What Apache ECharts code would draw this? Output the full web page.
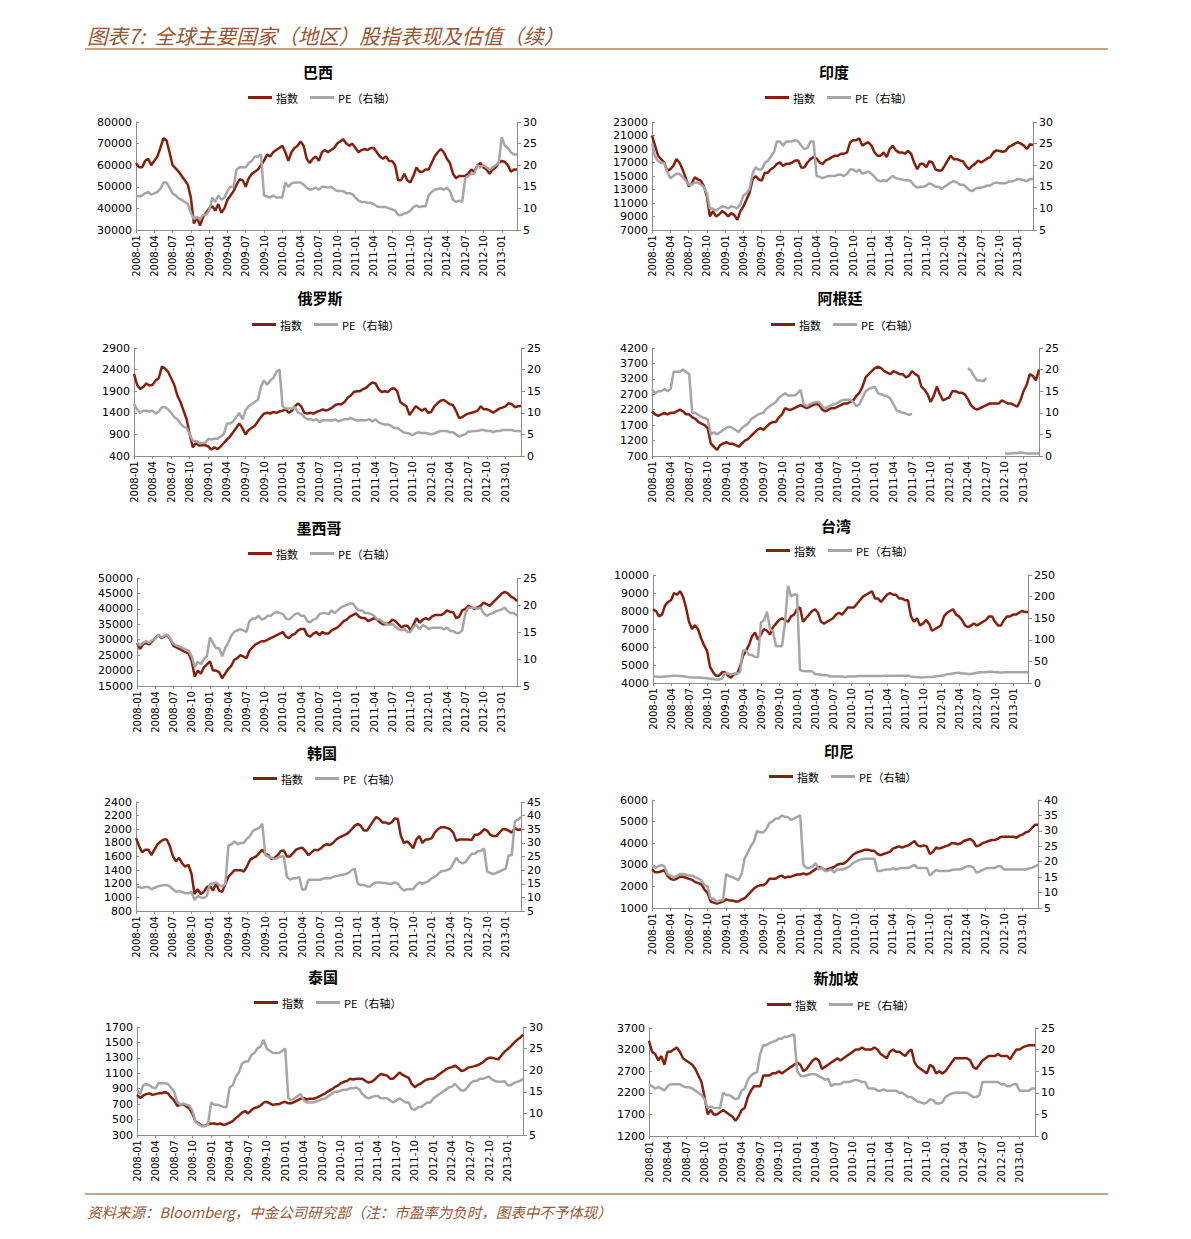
<!DOCTYPE html>
<html><head><meta charset="utf-8">
<script src="https://cdn.jsdelivr.net/npm/echarts/dist/echarts.min.js"></script>
<style>html,body{margin:0;padding:0;background:#fff}#c{width:1191px;height:1239px}</style>
</head><body><div id="c"></div><script>
// x tick labels (every 3 months), samples every half month from 2008-01
const xTickLabels = ['2008-01','2008-04','2008-07','2008-10','2009-01','2009-04','2009-07','2009-10','2010-01','2010-04','2010-07','2010-10','2011-01','2011-04','2011-07','2011-10','2012-01','2012-04','2012-07','2012-10','2013-01'];
const monthPos = Array.from({length:126},(_,i)=>i*0.5);

const brazilIdx = [61000,59000,59000,62000,63000,60000,62000,64000,68000,72500,
71500,66000,60000,58500,57000,55000,53000,51000,45000,33000,
36000,32000,36000,38000,40000,41000,39000,42000,38000,40000,
44000,46000,48000,51000,53500,53000,50000,54000,56000,57000,
58000,60000,62000,65000,64000,66000,67000,68000,69000,66000,
62000,66000,68000,69000,71000,69000,63000,61000,63000,64000,
62000,66000,67000,66000,67000,68000,70000,71000,72000,70000,
69000,70000,68000,66000,67000,67500,67000,68000,68000,66000,
64000,63000,64000,62000,62000,60000,53000,53000,56000,53000,
52000,55000,59000,57000,57000,58000,58000,61000,64000,66000,
67500,66000,63000,61000,56000,54000,55000,55000,55000,56000,
58000,57000,60000,61000,59000,58000,56000,58000,59000,61000,
62000,61500,60000,57000,58000,58000];
const brazilPE = [13,12.8,13,13.5,13.8,13.2,13.5,13.8,14.5,16,
16,14.8,13.5,13,12.3,12,11.5,11,9,7.5,
8,7.5,8.5,8.5,9.5,12.5,11.5,13,12,12.5,
14,15,15,19,19.5,19.5,19.5,20.5,21,22,
22,22.5,13,12.8,12.5,13,12.5,12.5,12.5,16,
15,15.8,16,16,16,15.5,14.8,14.3,14.5,14.8,
14.3,15,15,14.8,15,14.5,14,14,14,13.5,
13.5,13.3,12.5,11.8,11.5,11.5,11.3,11.3,11,10.5,
10.3,10.3,10.3,10,9.8,9.5,8.5,8.5,8.8,9,
9.5,10.3,10.7,10.3,10.5,10.5,13,13.8,14.3,14.5,
14.7,14.3,14.8,14,12,11.5,11.8,11.5,17,17.5,
18,18,20,19.5,20,19.5,19,19.5,20,20.5,
26.5,24.5,24,23,22.5,22.5];

const indiaIdx = [21000,19500,18000,17500,17000,15800,16000,16500,17500,17000,
16000,14800,13500,13800,14800,14500,14300,13500,12000,9000,
9800,9000,9300,9800,9500,9000,9500,9200,8500,9800,
10500,11500,12500,14500,15000,14500,14300,15500,15500,16000,
16300,16800,17000,16500,16800,16800,17000,17300,17300,16200,
16300,17000,17500,17800,17600,17000,16800,17300,17500,17800,
18000,18000,18300,18300,18500,20000,20300,20300,20600,19500,
19800,20000,19500,18500,18000,18000,18500,17800,19000,19500,
18800,18500,18500,18300,18700,18300,17000,16000,16800,16800,
16300,17200,17000,16000,15800,15800,16500,17300,18000,17500,
17500,17300,17200,16500,16000,16500,16800,17300,17000,17300,
17600,17800,18500,18800,18700,18600,18700,19300,19500,19800,
20000,19800,19500,19000,19700,19600];
const indiaPE = [25,22,21,20.5,20.5,18.5,17,17.5,18,18,
17.3,16.5,15.5,15.5,16,16,15.5,15,13.5,10,
10,9.5,10,10.5,10.3,10,10.5,10.3,10,11,
13,13.5,14.5,18,19.5,19,19,20.5,21,22,
23,25.5,25.5,24.5,25.5,25.5,25.5,25.8,25.5,24.5,
23.7,24,25.5,25.5,17.5,17.3,17,17.3,17.5,17.5,
17.5,17.8,17.8,17.5,18,19,19,18.5,19,18,
18.3,18.5,18,17.3,16.5,16.3,16.5,16.3,17,17.5,
17,16.8,16.7,16.5,16.5,16.3,15.3,14.8,15,15,
15.3,15.8,15.5,15,15,14.5,15,15.5,16,16.3,
16,15.5,15.5,15,14.3,14,14.5,14.8,14.8,15,
15.3,15.3,15.8,16,15.8,15.8,15.8,16.2,16.2,16.5,
16.8,16.7,16.5,16.3,16.8,16.8];

const russiaIdx = [2300,2050,1950,2000,2080,2030,2050,2150,2200,2470,
2430,2350,2200,2050,1800,1650,1450,1250,900,600,
700,640,650,650,620,550,600,560,620,700,
780,850,950,1050,1150,1050,900,1000,1050,1100,
1200,1300,1380,1400,1380,1420,1400,1430,1450,1480,
1400,1450,1550,1620,1550,1400,1380,1400,1380,1420,
1450,1480,1450,1480,1520,1580,1600,1600,1650,1750,
1800,1880,1900,1900,1950,1980,2050,2100,2080,1950,
1880,1900,1880,1950,1970,1900,1650,1600,1550,1350,
1450,1550,1500,1450,1500,1400,1420,1550,1620,1680,
1700,1650,1600,1580,1450,1280,1300,1350,1380,1400,
1420,1450,1550,1480,1480,1450,1400,1450,1500,1520,
1550,1620,1600,1530,1550,1560];
const russiaPE = [12,10.8,10,10.5,10.5,10.3,10.5,9.8,10.3,11.3,
11.3,10.8,10,9,8.5,7.5,6.8,6.5,5,3.5,
3.5,3,3,3,4,3.8,4,4,4.5,5,
7.5,7.5,8,9,10,8.5,10.5,11.5,12,12.5,
13,16,17.5,16.5,17.5,18,19.5,20,11.5,11,
11,11,11.3,10,9.8,9,8.5,8.5,8.3,8.5,
7.8,8.3,8.3,8.3,8.2,8.5,8,8.3,8.5,8.5,
8.8,8.5,8.2,8.3,8.3,8.3,8.5,8,8.5,7.8,
7.5,7.3,7.3,7,6.5,6.5,6,5.5,5.3,5.2,
4.8,5.3,5.5,5.3,5.3,5.2,5,5.2,5.5,5.8,
5.8,5.8,5.5,5.5,5,4.5,4.8,5,5.7,5.7,
5.8,5.8,6,6,5.8,5.8,5.5,5.8,5.8,6,
6,6,6,5.8,5.8,5.7];

const argentinaIdx = [2150,2050,2000,2050,2100,2050,2100,2100,2150,2200,
2150,2050,2050,1950,1900,1800,1750,1700,1600,1100,
1000,900,1050,1100,1150,1100,1100,1050,1000,1100,
1200,1250,1350,1450,1550,1600,1550,1650,1750,1800,
1800,1950,2050,2250,2200,2200,2250,2300,2350,2300,
2250,2300,2350,2400,2350,2200,2150,2200,2250,2250,
2300,2350,2400,2400,2450,2500,2650,2750,2950,3250,
3350,3450,3550,3600,3550,3450,3400,3350,3450,3400,
3350,3350,3250,3300,3450,3350,3300,2950,2850,2700,
2450,2650,2950,2700,2500,2550,2600,2800,2800,2750,
2750,2700,2550,2350,2250,2200,2250,2300,2350,2400,
2400,2400,2400,2500,2450,2400,2400,2350,2300,2500,
2800,3000,3350,3300,3150,3500];
const argentinaPE = [15.5,14.5,15,15,15.5,15,15.5,19.5,19.5,19.5,
20,19.5,19,10,10,9.5,9,8.8,8.5,5,
5.5,5,5.5,6,6.5,6.8,6.5,6,5.5,6.5,
7,7.5,8.5,9,9.5,9.8,10,11,11.5,12,
12.5,13.5,14,14.5,14,14,14,14.5,15.3,12,
11.5,12,12.3,12.5,12.5,11.5,11,11.5,11.8,12,
12.3,12.8,13,13,13,12.5,11.5,12,13.5,15,
15.5,15.8,16,14.5,14.3,14,13.8,13.3,12,10.5,
10.3,10,9.8,9.5,9.8,null,null,null,null,null,
null,null,null,null,null,null,null,null,null,null,
null,null,20.3,19.8,18.5,17.5,17.5,17.3,18,null,
null,null,null,null,0.6,0.6,0.6,0.7,0.7,0.8,
0.7,0.6,0.6,0.6,0.6,0.6];

const mexicoIdx = [29000,27000,28500,29000,28500,29500,30500,31500,30500,31000,
31500,30000,28000,27500,27000,26500,26000,25500,23000,18000,
20000,19000,21000,22000,23000,20000,20000,19500,17500,19000,
20500,21500,23500,24000,25000,24500,24000,26500,27500,28500,
29000,29500,29500,30000,30500,31000,31500,32000,32500,31000,
30500,31500,32000,33000,33500,33500,31500,31000,32000,32500,
31500,32500,32000,32000,33000,33500,34000,35000,36000,36500,
37500,38000,38500,37500,37000,37000,36000,36500,37000,36500,
35500,35000,35000,35500,36500,36000,35000,34000,34500,34500,
33000,35000,37000,35500,36500,37000,36500,37500,38000,38000,
38000,38500,39500,39000,39000,37000,37500,39500,40000,41000,
40500,40000,40500,41000,42000,41500,41000,42000,43000,44000,
45000,45500,45000,44000,43500,42500];
const mexicoPE = [13,12.5,13,13.3,13,13.5,13.7,14.5,14,14.3,
14.5,13.7,12.8,12.5,12.3,12,11.8,11.5,10.5,8.5,
9.5,9,10,10.5,14,13,12,12,10.5,12,
13,14.3,15,15.3,15.5,15.3,15,17,17.5,17.5,
18,17.3,17.5,18,18,18.5,18.7,18.5,18.3,17.5,
17.3,17.8,18.3,18.5,18,18,17,16.8,17.3,17.5,
18.3,18.5,18.5,18.3,19,18.5,19,19.5,19.8,20,
20.3,20.3,19.5,19,19,18.5,18.5,18.3,18,17.3,
17.3,16.8,16.5,16.3,16.5,16,15.5,15.3,15.5,15,
15,16,16.3,15.5,16.3,16,15.5,15.8,15.8,15.8,
15.8,15.5,15.8,15.2,15.2,14.8,14.8,15.3,18.5,19.5,
19.5,19.5,19.3,19.5,18.5,18,18.3,18.5,18.8,19,
19.2,19.5,18.8,18.5,18.5,18];

const taiwanIdx = [8100,8000,7700,7800,8300,8500,8600,9000,8900,9100,
8800,8200,7400,7000,7200,7000,6500,6100,5800,4900,
4600,4400,4400,4600,4600,4400,4300,4500,4500,4900,
5500,5800,6100,6600,6800,6400,6700,7000,6900,6700,
7100,7300,7500,7600,7500,7400,7700,7800,8100,8200,
7400,7600,7800,8000,8100,7900,7400,7300,7400,7500,
7600,7800,7900,7800,8000,8200,8200,8200,8400,8600,
8800,8900,9000,9100,8700,8700,8500,8700,8900,9000,
8900,8900,8700,8700,8600,8600,7700,7400,7600,7200,
7300,7500,7300,6900,7000,7100,7200,7700,7900,8000,
8100,7800,7700,7500,7200,7100,7200,7300,7200,7300,
7400,7500,7700,7700,7400,7200,7200,7500,7700,7700,
7800,7800,7900,8000,7950,7950];
const taiwanPE = [15,15,14,14.5,15,15.5,16,17,16.5,16,
15.5,14.5,13.5,13,13,12.5,12,11.5,11,10,
9,8,8,10,22,22,20,22,22,25,
75,75,65,65,60,60,140,145,165,125,
120,85,85,85,140,225,200,205,205,30,
28,27,27,27,21,20,19,18,18,15,
15,15,15,15,14,15,15,15,15.5,16,
16,16,16,16,16,16,16,16.5,16.5,16.5,
17,17,17,17,17,17,15,14,14,13,
13,14,14,14,15,16,17,18,20,21,
22,23,24,22,22,21,21,22,24,25,
25,25,26,26,25,25,24,25,25,25,
25,25,25,25,25,25];

const koreaIdx = [1870,1750,1660,1700,1700,1620,1700,1780,1820,1850,
1850,1750,1600,1530,1580,1500,1450,1480,1350,1050,
1120,1050,1080,1150,1170,1100,1200,1100,1080,1200,
1300,1350,1400,1400,1400,1380,1450,1550,1580,1600,
1650,1700,1640,1620,1560,1580,1620,1680,1690,1600,
1600,1650,1700,1720,1730,1680,1620,1660,1700,1690,
1720,1760,1780,1770,1800,1850,1880,1900,1920,1950,
2000,2050,2080,2050,1980,1980,2050,2120,2180,2150,
2100,2100,2080,2100,2160,2150,1900,1800,1820,1780,
1720,1850,1900,1800,1850,1850,1870,1950,2000,2030,
2030,2020,2000,1950,1830,1850,1850,1850,1850,1840,
1920,1920,1950,2000,1980,1920,1900,1900,1950,2000,
2000,1980,1950,2020,1990,2000];
const koreaPE = [14,13.8,13.5,13.8,13.8,13,13.5,14,14.3,14.5,
14.5,14,13,12,12.3,12,11.5,11.5,12,9,
10.5,10,9.8,10.5,15,15,15.5,14.5,14,15,
29,29.5,30.5,29.5,30,30,31.5,32.5,34.5,35,
35.5,37,25.5,25,24.5,24,24.5,25,25,17.5,
16.5,17,17,17.5,12.8,13,16.5,16.5,16.5,16.5,
16.5,17,17,17,17.5,17.8,18,18.3,18.5,19,
20,20.5,15,14.5,14.5,14,14,15,15.5,15.5,
15.3,15.3,15,15,15.5,15,13.5,12.5,13,13,
13,14.5,15.5,15,15.5,16,17,17.5,18.5,19.5,
19.8,20,20.5,22.5,24.5,23,22.5,23,24.5,26,
26,27,27,28,19.5,19,18.5,19,19.5,20,
20.5,25.5,25.5,38,38.5,39.5];

const indonesiaIdx = [2800,2650,2650,2700,2750,2500,2350,2300,2350,2450,
2450,2400,2350,2300,2200,2150,2100,1850,1700,1300,
1250,1200,1250,1300,1400,1350,1350,1300,1300,1400,
1450,1600,1750,1900,2000,2050,2050,2150,2350,2350,
2350,2450,2500,2400,2450,2450,2500,2550,2550,2600,
2550,2600,2700,2800,2900,2850,2750,2800,2850,2900,
3000,3050,3050,3150,3300,3450,3550,3600,3650,3700,
3700,3650,3650,3500,3450,3500,3550,3600,3750,3800,
3850,3800,3850,3900,4000,4100,3900,3850,3900,3850,
3500,3600,3800,3750,3800,3850,3900,4000,4000,3950,
4000,4100,4150,4200,4100,3850,3900,4000,4050,4100,
4150,4150,4200,4300,4300,4300,4300,4300,4250,4350,
4400,4500,4550,4700,4850,4850];
const indonesiaPE = [19,18,18.5,19,18.5,16,15.5,15,15.3,16,
16,15.8,15.5,15.5,15,14.5,14,12.5,12,8,
8,7,7.5,7.5,16,15.3,15,14.5,14,16,
21,23,25,26.5,30,29.5,29.5,30.5,32.5,33,
34,34,35,34.5,34.5,33.5,34,34.5,35,19,
18,18,18.5,19.5,17.5,18,17,17,17.5,16.5,
17.5,17.5,17.5,18,18.5,19.5,20,20.5,20.8,21,
21,21,21,17,17,17.3,17.5,17.5,17.8,17.5,
17.8,18,18,18,18.5,19,18,18,18,18,
15.5,16.5,17.3,17,17,17,17,17.3,17.5,17.5,
17.5,18,18.5,18.5,18.3,16.5,16.8,17.3,17.8,18,
18,18,18.5,18.5,17.5,17.5,17.5,17.5,17.5,17.5,
17.5,17.5,17.8,18,18.5,19];

const thailandIdx = [820,780,810,830,840,820,830,840,840,860,
840,790,750,680,690,700,670,640,570,470,
450,420,420,440,450,450,440,450,430,440,
460,480,520,550,590,610,580,620,650,660,
680,720,730,710,690,700,700,720,730,710,
710,730,750,770,780,760,770,770,780,800,
820,840,870,890,920,940,970,990,1000,1030,
1020,1030,1030,1030,1000,980,990,1020,1060,1090,
1080,1070,1030,1030,1070,1110,1080,1060,1040,960,
920,950,970,1000,1020,1030,1030,1060,1090,1120,
1150,1170,1180,1200,1170,1130,1140,1170,1180,1190,
1200,1220,1240,1280,1300,1300,1290,1280,1330,1380,
1410,1450,1490,1530,1560,1600];
const thailandPE = [15.5,14.5,16.5,16.8,16.5,16,15.8,17,17,17,
16.8,16,15,12.8,12,12.3,12,11.8,10.5,8,
7.5,7,7,7.5,12.5,12,12,11.8,11.5,11.5,
16,16.5,18.5,19.5,21.5,22,22,23.5,24,25,
25.5,27,25,24.5,24,24,24,24.5,25,13.5,
13,13.5,14,14.5,13,12.5,12.5,12.5,12.8,13,
13.3,13.5,14,14.5,15,15,15.3,15.5,15.5,15.8,
15.8,16,15.5,14.5,13.8,13.5,13.8,14,14,13.5,
13.5,13.5,13,12.5,13,13.5,13,12.5,12.5,11,
10.8,11.5,11.5,12,12.5,12.5,13.5,14,14.5,15,
15.5,16,16.2,16.8,16,15.3,15.3,16,17,17.5,
17.5,18,18,18.3,18.5,17.8,17.5,17.3,17.3,17.5,
16.5,16.5,17,17.3,17.5,18];

const singaporeIdx = [3400,3150,3100,2950,3050,2850,3150,3150,3200,3250,
3150,3000,2950,2900,2850,2750,2600,2450,2100,1700,
1800,1700,1700,1750,1800,1750,1700,1650,1550,1650,
1800,1850,2100,2250,2350,2350,2350,2600,2600,2600,
2650,2650,2700,2650,2700,2750,2800,2850,2900,2850,
2700,2750,2850,2950,3000,2950,2750,2800,2850,2900,
2950,3000,2950,3000,3050,3100,3150,3200,3200,3250,
3200,3200,3200,3250,3200,3100,3050,3000,3150,3200,
3150,3150,3100,3050,3150,3200,2900,2800,2750,2700,
2650,2850,2800,2650,2700,2650,2700,2800,2900,3000,
3000,3000,3000,3000,2950,2800,2750,2850,2950,3000,
3050,3050,3050,3100,3050,3050,3050,2980,3100,3200,
3200,3250,3280,3300,3300,3300];
const singaporePE = [12,11.5,11,11.3,11,10.5,11.5,12,12,12,
12,11.5,11.3,11.3,11,10.5,10,9.5,8.5,6.5,
6.8,6.5,6.5,6.5,10,9.5,9.5,9,8.5,8.8,
10.5,11,13,14,14.5,14.8,19,21,21,21.5,
21.8,22,22.5,22.5,23,23,23.3,23.5,15,14,
13.8,14,14.3,14.3,14.3,13.8,13.5,13,13.3,11.5,
12,12,12,12.5,12.5,12.5,12.8,13,12.8,12.5,
12.5,11,11,11,10.5,10.5,10.8,10.5,10.5,10.5,
10.5,10,10,9.5,9,9,8.5,8,7.8,7.5,
7.8,8.5,8.3,7.5,7.5,7.8,9,9.5,9.8,10,
10,10,10,10,9.5,9,9,9.5,12.5,12.5,
12.5,12.5,12.5,12.5,12,12,11.5,11.5,12,12,
10.5,10.5,10.5,10.5,11,11];

// layout of each panel (positions / axis ranges)
const panels = [
  {name:'巴西',  idx:brazilIdx,    pe:brazilPE,    grid:[136,122,381,108], left:[30000,80000,10000], right:[5,30,5],   title:[318,71],  legend:[248,99]},
  {name:'印度',  idx:indiaIdx,     pe:indiaPE,     grid:[652,122,381,108], left:[7000,23000,2000],   right:[5,30,5],   title:[834,71],  legend:[765,99]},
  {name:'俄罗斯',idx:russiaIdx,    pe:russiaPE,    grid:[134,348,387,108], left:[400,2900,500],      right:[0,25,5],   title:[320,297], legend:[252,326]},
  {name:'阿根廷',idx:argentinaIdx, pe:argentinaPE, grid:[652,348,387,108], left:[700,4200,500],      right:[0,25,5],   title:[840,297], legend:[771,326]},
  {name:'墨西哥',idx:mexicoIdx,    pe:mexicoPE,    grid:[137,578,380,108], left:[15000,50000,5000],  right:[5,25,5],   title:[319,527], legend:[248,555]},
  {name:'台湾',  idx:taiwanIdx,    pe:taiwanPE,    grid:[653,575,375,108], left:[4000,10000,1000],   right:[0,250,50], title:[836,525], legend:[766,552]},
  {name:'韩国',  idx:koreaIdx,     pe:koreaPE,     grid:[136,802,385,109], left:[800,2400,200],      right:[5,45,5],   title:[322,752], legend:[253,780]},
  {name:'印尼',  idx:indonesiaIdx, pe:indonesiaPE, grid:[652,800,386,108], left:[1000,6000,1000],    right:[5,40,5],   title:[839,750], legend:[769,778]},
  {name:'泰国',  idx:thailandIdx,  pe:thailandPE,  grid:[137,1027,386,108],left:[300,1700,200],      right:[5,30,5],   title:[323,976], legend:[254,1004]},
  {name:'新加坡',idx:singaporeIdx, pe:singaporePE, grid:[649,1028,386,108],left:[1200,3700,500],     right:[0,25,5],   title:[836,977], legend:[767,1006]}
];

const RED = '#86200d', GRAY = '#a6a6a6', AXIS = '#8c8c8c';
const NUMFONT = '"DejaVu Sans", Verdana, sans-serif';
const CJK = '"Noto Sans CJK SC", sans-serif';
const TITLE_COLOR = '#9c5530';
const plain = (v)=>String(v);

const grids=[], xAxes=[], yAxes=[], series=[], legends=[], graphics=[];
panels.forEach((p,i)=>{
  grids.push({left:p.grid[0], top:p.grid[1], width:p.grid[2], height:p.grid[3]});
  xAxes.push({type:'value', gridIndex:i, min:0, max:62.5, interval:3,
    splitLine:{show:false},
    axisLine:{show:true, onZero:false, lineStyle:{color:AXIS,width:1}},
    axisTick:{show:true, length:3, lineStyle:{color:AXIS}},
    axisLabel:{rotate:90, fontSize:10, color:'#000', fontFamily:NUMFONT, margin:5, showMaxLabel:false,
      formatter:(v)=>{const k=Math.round(v/3); return (Math.abs(v-k*3)<1e-6 && xTickLabels[k]) ? xTickLabels[k] : '';}}});
  yAxes.push({type:'value', gridIndex:i, position:'left', min:p.left[0], max:p.left[1], interval:p.left[2],
    splitLine:{show:false},
    axisLine:{show:true, lineStyle:{color:AXIS,width:1}},
    axisTick:{show:true, inside:true, length:3, lineStyle:{color:AXIS}},
    axisLabel:{fontSize:11, color:'#000', fontFamily:NUMFONT, margin:4, formatter:plain}});
  yAxes.push({type:'value', gridIndex:i, position:'right', min:p.right[0], max:p.right[1], interval:p.right[2],
    splitLine:{show:false},
    axisLine:{show:true, lineStyle:{color:AXIS,width:1}},
    axisTick:{show:true, length:4, lineStyle:{color:AXIS}},
    axisLabel:{fontSize:11, color:'#000', fontFamily:NUMFONT, margin:6, formatter:plain}});
  series.push({type:'line', name:'指数', xAxisIndex:i, yAxisIndex:2*i,
    data: monthPos.map((m,k)=>[m, p.idx[k]]),
    showSymbol:false, symbol:'none', connectNulls:false, silent:true,
    lineStyle:{color:RED, width:2.5}, itemStyle:{color:RED}, z:2});
  series.push({type:'line', name:'PE（右轴）', xAxisIndex:i, yAxisIndex:2*i+1,
    data: monthPos.map((m,k)=>[m, p.pe[k]==null ? '-' : p.pe[k]]),
    showSymbol:false, symbol:'none', connectNulls:false, silent:true,
    lineStyle:{color:GRAY, width:2.5}, itemStyle:{color:GRAY}, z:3});
  legends.push({left:p.legend[0], top:p.legend[1]-7, padding:0, icon:'rect', itemWidth:24, itemHeight:3, itemGap:12,
    selectedMode:false, data:['指数','PE（右轴）'],
    textStyle:{fontSize:11, color:'#000', fontFamily:CJK, padding:[0,0,0,-1]}});
  graphics.push({type:'text', x:p.title[0], y:p.title[1],
    style:{text:p.name, font:'bold 15px "Noto Sans CJK SC"', fill:'#000',
      textAlign:'center', textVerticalAlign:'middle', align:'center', verticalAlign:'middle'}});
});

graphics.push({type:'text', x:87, y:35,
  style:{text:'图表7:  全球主要国家（地区）股指表现及估值（续）', font:'italic 20.5px "Noto Sans CJK SC"', fill:TITLE_COLOR,
    textAlign:'left', textVerticalAlign:'middle', align:'left', verticalAlign:'middle'}});
graphics.push({type:'line', shape:{x1:85,y1:49,x2:1108,y2:49}, style:{stroke:'#c9a386', lineWidth:2}});
graphics.push({type:'line', shape:{x1:85,y1:1194,x2:1108,y2:1194}, style:{stroke:'#c9a386', lineWidth:2}});
graphics.push({type:'text', x:87, y:1211,
  style:{text:'资料来源：Bloomberg，中金公司研究部（注：市盈率为负时，图表中不予体现）', font:'italic 14.5px "Noto Sans CJK SC"', fill:TITLE_COLOR,
    textAlign:'left', textVerticalAlign:'middle', align:'left', verticalAlign:'middle'}});

const chart = echarts.init(document.getElementById('c'), null, {renderer:'svg'});
chart.setOption({
  animation:false,
  backgroundColor:'#ffffff',
  grid:grids, xAxis:xAxes, yAxis:yAxes, series:series, legend:legends,
  graphic:{elements:graphics}
});
</script></body></html>
